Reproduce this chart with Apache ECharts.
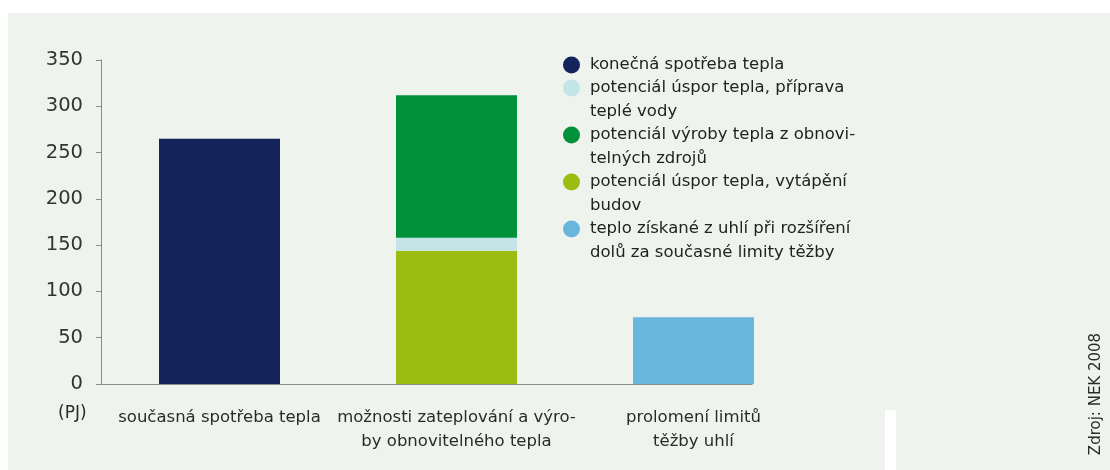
<!DOCTYPE html>
<html><head><meta charset="utf-8">
<script src="https://cdn.jsdelivr.net/npm/echarts@6/dist/echarts.min.js"></script>
<style>html,body{margin:0;padding:0;background:#fff}#c{width:1110px;height:470px}</style>
</head><body><div id="c"></div>
<script>
// ---- data ----
const categories = ['současná spotřeba tepla', 'možnosti zateplování a výro-\nby obnovitelného tepla', 'prolomení limitů\ntěžby uhlí'];
const consumption   = [265, '-', '-'];
const savingsHeat   = ['-', 144, '-'];
const savingsWater  = ['-', 14, '-'];
const renewables    = ['-', 154, '-'];
const coalExpansion = ['-', '-', 72];
const yMin = 0, yMax = 350, yStep = 50;
const unitLabel = '(PJ)';
const sourceLabel = 'Zdroj: NEK 2008';
const seriesNames = [
  'konečná spotřeba tepla',
  'potenciál úspor tepla, příprava teplé vody',
  'potenciál výroby tepla z obnovitelných zdrojů',
  'potenciál úspor tepla, vytápění budov',
  'teplo získané z uhlí při rozšíření dolů za současné limity těžby'
];
const legendTexts = [
  'konečná spotřeba tepla',
  'potenciál úspor tepla, příprava\nteplé vody',
  'potenciál výroby tepla z obnovi-\ntelných zdrojů',
  'potenciál úspor tepla, vytápění\nbudov',
  'teplo získané z uhlí při rozšíření\ndolů za současné limity těžby'
];
const colors = ['#15235b', '#c4e4e8', '#00913a', '#9bbc10', '#68b6dc'];

// ---- chart ----
const FONT = 'DejaVu Sans';
const chart = echarts.init(document.getElementById('c'), null, {renderer: 'canvas'});
const legendMap = {};
// multi-line entries get an empty leading line so the marker sits beside the first line
seriesNames.forEach((n, i) => legendMap[n] = legendTexts[i].indexOf('\n') >= 0 ? '\n' + legendTexts[i] : legendTexts[i]);

function bar(nameIdx, data) {
  return {
    name: seriesNames[nameIdx], type: 'bar', stack: 'total', data: data,
    barWidth: 121, xAxisIndex: 0, yAxisIndex: 0,
    itemStyle: {color: colors[nameIdx]}
  };
}

chart.setOption({
  animation: false,
  backgroundColor: '#eef3ee',
  textStyle: {fontFamily: FONT},
  grid: [
    {left: 101, top: 60, width: 711, height: 324},
    {left: 101, top: 60, width: 651, height: 324}
  ],
  legend: {
    orient: 'vertical', left: 563, top: 52, padding: 0,
    itemGap: -25, itemWidth: 17, itemHeight: 17,
    selectedMode: false, icon: 'circle',
    textStyle: {fontFamily: FONT, fontSize: 16.5, color: '#222', lineHeight: 24, padding: [0, 0, 0, 5]},
    formatter: name => legendMap[name],
    data: seriesNames
  },
  xAxis: [
    {
      type: 'category', gridIndex: 0, data: categories,
      axisLine: {show: false}, axisTick: {show: false},
      axisLabel: {fontFamily: FONT, fontSize: 16.5, color: '#2a2a2a', lineHeight: 24, margin: 22, interval: 0}
    },
    {
      type: 'category', gridIndex: 1, data: [''],
      axisLine: {show: true, onZero: false, lineStyle: {color: '#8a8a8a', width: 1.2}},
      axisTick: {show: false}, axisLabel: {show: false}
    }
  ],
  yAxis: [
    {
      type: 'value', gridIndex: 0, min: yMin, max: yMax, interval: yStep,
      splitLine: {show: false},
      axisLine: {show: true, lineStyle: {color: '#8a8a8a', width: 1}},
      axisTick: {show: true, length: 5, lineStyle: {color: '#8a8a8a'}},
      axisLabel: {fontFamily: FONT, fontSize: 19.5, color: '#333', margin: 18}
    },
    {type: 'value', gridIndex: 1, min: yMin, max: yMax, show: false}
  ],
  series: [
    bar(3, savingsHeat),
    bar(1, savingsWater),
    bar(2, renewables),
    bar(0, consumption),
    bar(4, coalExpansion)
  ],
  graphic: [
    {type: 'rect', left: 0, top: 0, shape: {width: 1110, height: 13}, style: {fill: '#ffffff'}, silent: true},
    {type: 'rect', left: 0, top: 0, shape: {width: 8, height: 470}, style: {fill: '#ffffff'}, silent: true},
    {type: 'rect', left: 885, top: 410, shape: {width: 11, height: 60}, style: {fill: '#ffffff'}, silent: true},
    {type: 'text', left: 58, top: 405, style: {text: unitLabel, font: '17px "DejaVu Sans"', fill: '#2a2a2a'}},
    {type: 'text', x: 1096, y: 394, rotation: Math.PI / 2,
     style: {text: sourceLabel, font: '15px "DejaVu Sans"', fill: '#2a2a2a', align: 'center', verticalAlign: 'middle'}}
  ]
});
</script></body></html>
